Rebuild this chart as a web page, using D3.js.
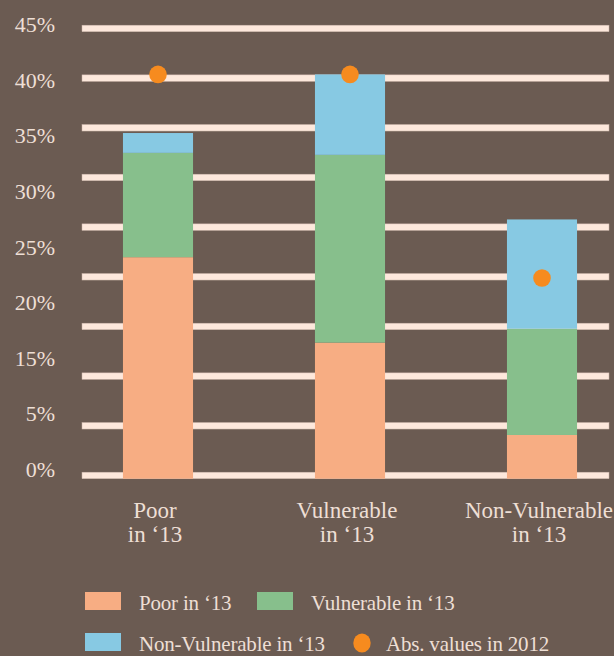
<!DOCTYPE html>
<html>
<head>
<meta charset="utf-8">
<script src="https://cdn.jsdelivr.net/npm/d3@7"></script>
<style>
  html, body { margin: 0; padding: 0; background: #6b5b52; }
  svg { display: block; }
  text { font-family: "Liberation Serif", "DejaVu Serif", serif; fill: #eedfd5; }
</style>
</head>
<body>
<div id="chart"></div>
<script>
const categories = ["Poor", "Vulnerable", "Non-Vulnerable"];
const categorySub = "in \u201813";
const poorIn13 = [22.3, 13.7, 4.4];
const vulnerableIn13 = [10.5, 18.9, 10.7];
const nonVulnerableIn13 = [2.0, 8.1, 11.0];
const absValues2012 = [40.7, 40.7, 20.2];
const gridValues = [0, 5, 10, 15, 20, 25, 30, 35, 40, 45];
const tickLabels = ["45%", "40%", "35%", "30%", "25%", "20%", "15%", "5%", "0%"];

const COLORS = {
  poor: "#f7ad83",
  vulnerable: "#87bf8c",
  nonVulnerable: "#87c9e3",
  abs: "#f68b1f",
  grid: "#fde8dc",
};

const width = 614;
const height = 656;

const svg = d3.select("#chart").append("svg")
  .attr("width", width)
  .attr("height", height);

const y = d3.scaleLinear()
  .domain([0, 45])
  .range([478.7, 31.7]);

const x = d3.scaleBand()
  .domain(categories)
  .range([62, 638])
  .paddingInner(0.635)
  .paddingOuter(0.3175);

// gridlines
svg.append("g")
  .selectAll("rect")
  .data(gridValues)
  .enter()
  .append("rect")
  .attr("x", 82)
  .attr("y", d => y(d) - 6.5)
  .attr("width", 527)
  .attr("height", 6.5)
  .attr("fill", COLORS.grid)
  .attr("stroke", "#c9b3a8")
  .attr("stroke-width", 0.5);

// y labels (evenly spaced, as in the original)
const yLab = d3.scalePoint()
  .domain(tickLabels)
  .range([32, 477]);

svg.append("g")
  .selectAll("text")
  .data(tickLabels)
  .enter()
  .append("text")
  .attr("x", 55)
  .attr("y", d => yLab(d))
  .attr("text-anchor", "end")
  .attr("font-size", 22)
  .text(d => d);

// stacked bars
const rows = categories.map((c, i) => ({
  category: c,
  poor: poorIn13[i],
  vulnerable: vulnerableIn13[i],
  nonVulnerable: nonVulnerableIn13[i],
}));

const stack = d3.stack().keys(["poor", "vulnerable", "nonVulnerable"]);
const series = stack(rows);

svg.append("g")
  .selectAll("g")
  .data(series)
  .enter()
  .append("g")
  .attr("fill", s => COLORS[s.key])
  .selectAll("rect")
  .data(s => s)
  .enter()
  .append("rect")
  .attr("x", d => x(d.data.category))
  .attr("y", d => y(d[1]))
  .attr("width", x.bandwidth())
  .attr("height", d => y(d[0]) - y(d[1]));

// 2012 dots
svg.append("g")
  .selectAll("circle")
  .data(absValues2012)
  .enter()
  .append("circle")
  .attr("cx", (d, i) => x(categories[i]) + x.bandwidth() / 2)
  .attr("cy", d => y(d))
  .attr("r", 8.8)
  .attr("fill", COLORS.abs);

// x labels
const xl = svg.append("g")
  .selectAll("text")
  .data(categories)
  .enter()
  .append("text")
  .attr("text-anchor", "middle")
  .attr("font-size", 23);

xl.append("tspan")
  .attr("x", d => x(d) + x.bandwidth() / 2 - 3)
  .attr("y", 518)
  .text(d => d);

xl.append("tspan")
  .attr("x", d => x(d) + x.bandwidth() / 2 - 3)
  .attr("y", 542)
  .text(categorySub);

// legend
const legendItems = [
  { label: "Poor in \u201813", color: COLORS.poor, type: "rect", x: 85, y: 610 },
  { label: "Vulnerable in \u201813", color: COLORS.vulnerable, type: "rect", x: 257, y: 610 },
  { label: "Non-Vulnerable in \u201813", color: COLORS.nonVulnerable, type: "rect", x: 85, y: 651 },
  { label: "Abs. values in 2012", color: COLORS.abs, type: "circle", x: 332, y: 651 },
];

const legend = svg.append("g")
  .selectAll("g")
  .data(legendItems)
  .enter()
  .append("g");

legend.filter(d => d.type === "rect")
  .append("rect")
  .attr("x", d => d.x)
  .attr("y", d => d.y - 18)
  .attr("width", 36)
  .attr("height", 18)
  .attr("fill", d => d.color);

legend.filter(d => d.type === "circle")
  .append("ellipse")
  .attr("cx", d => d.x + 30)
  .attr("cy", d => d.y - 8)
  .attr("rx", 8.7)
  .attr("ry", 9.5)
  .attr("fill", d => d.color);

legend.append("text")
  .attr("x", d => d.x + 54)
  .attr("y", d => d.y)
  .attr("font-size", 21)
  .attr("letter-spacing", -0.2)
  .text(d => d.label);
</script>
</body>
</html>
